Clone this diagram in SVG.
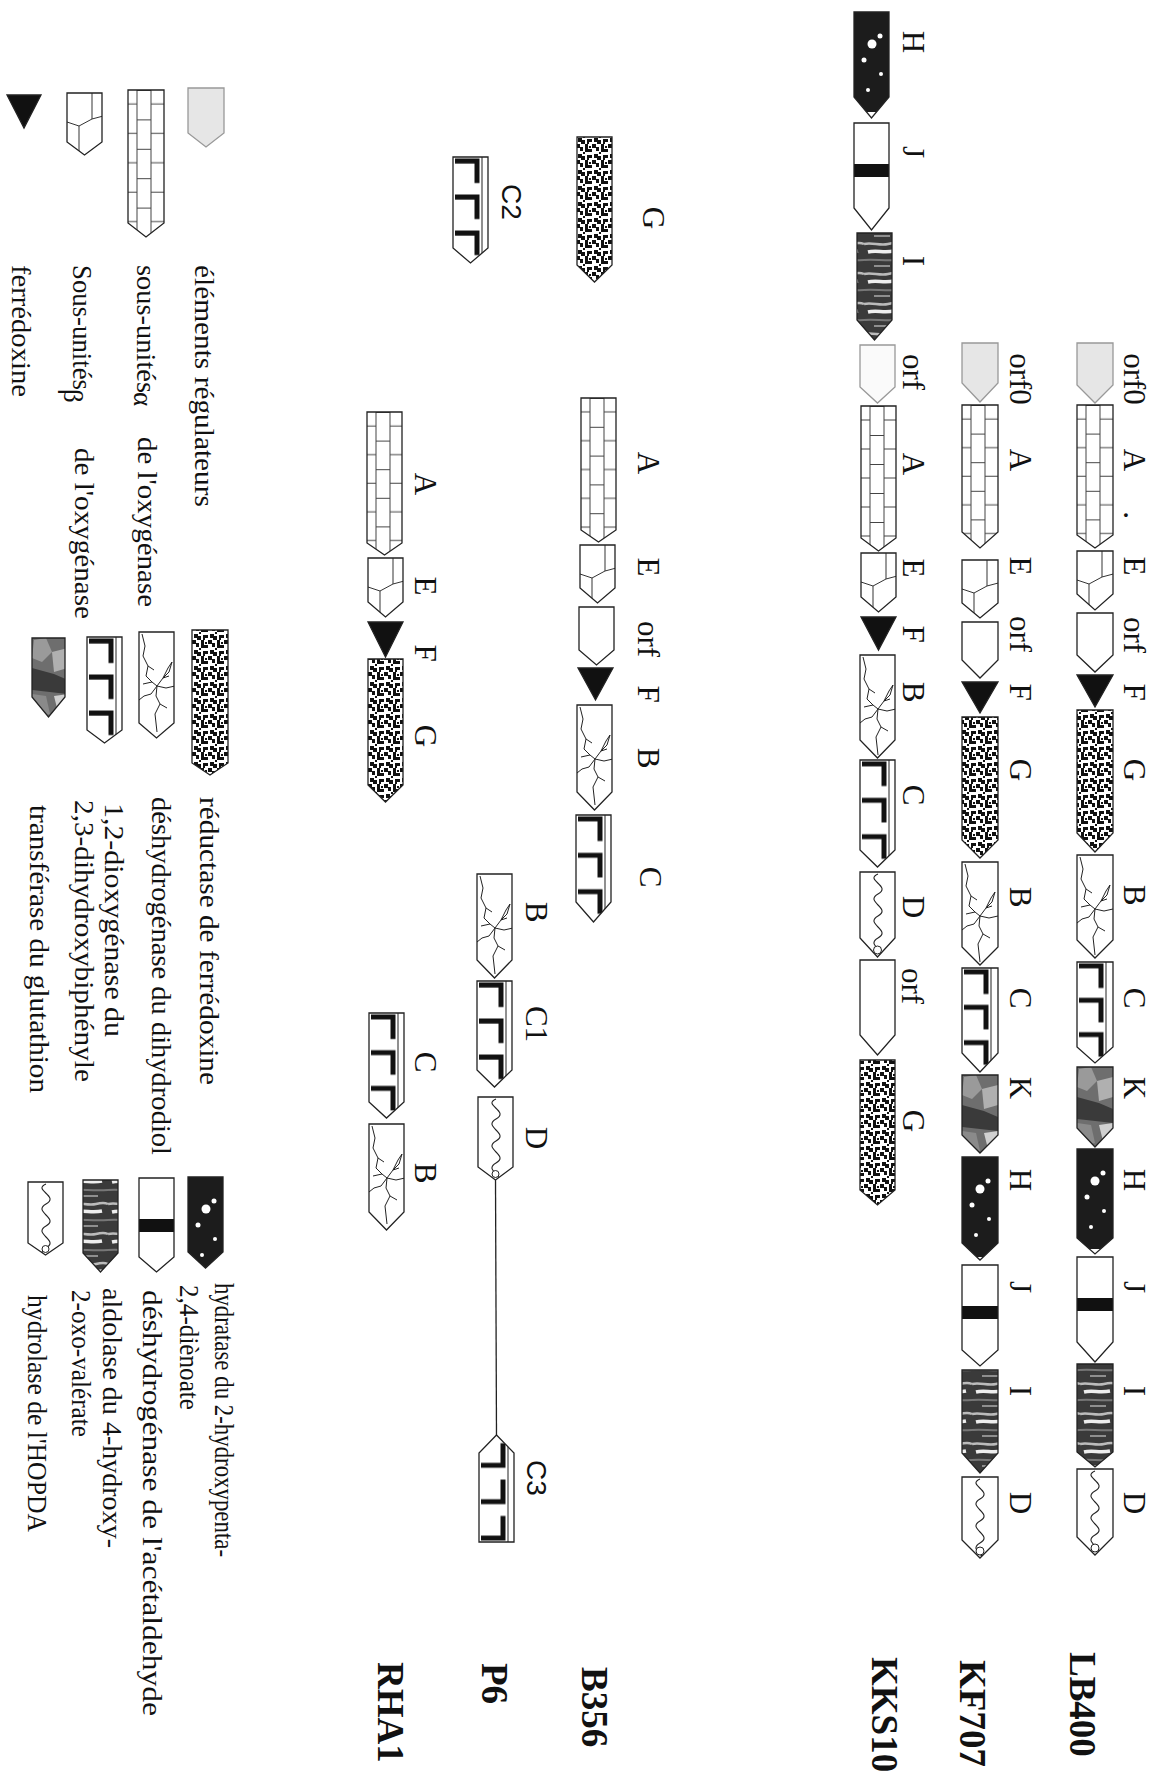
<svg xmlns="http://www.w3.org/2000/svg" width="1160" height="1780" viewBox="0 0 1160 1780">
<style>
.g{stroke:#222;stroke-width:1.3;stroke-linejoin:miter}
.reg{fill:#e6e6e6;stroke:#999}
.w{fill:#fff}
.fA{fill:url(#pA)}
.fE{fill:url(#pE)}
.fF{fill:#111}
.fG{fill:url(#pG)}
.fB{fill:url(#pB)}
.fC{fill:url(#pC)}
.fK{fill:url(#pK)}
.fH{fill:url(#pH)}
.fJ{fill:url(#pJ)}
.fI{fill:url(#pI)}
.fD{fill:url(#pD)}
.gl{font-family:"Liberation Serif",serif;font-size:31px;fill:#111;text-anchor:middle}
.gs{font-family:"Liberation Sans",sans-serif;font-size:28px;fill:#111;text-anchor:middle}
.st{font-family:"Liberation Serif",serif;font-weight:bold;font-size:37px;fill:#111}
.lg{font-family:"Liberation Serif",serif;font-size:27px;fill:#111}
.tipc{fill:#fff;stroke:#222;stroke-width:1}
.ln{stroke:#222;stroke-width:1.3;fill:none}
</style>
<defs>
<pattern id="pA" patternUnits="objectBoundingBox" width="1" height="0.2">
<rect width="40" height="60" fill="#fff"/>
<path d="M9 0V60M23 0V60M9 0.5H23M0 14H9M23 14H40" stroke="#444" stroke-width="1" fill="none"/>
</pattern>
<pattern id="pE" patternUnits="objectBoundingBox" width="1" height="1">
<rect width="40" height="80" fill="#fff"/>
<path d="M25 0V26L12 33V80M25 26L40 22M12 33L0 29" stroke="#333" stroke-width="1" fill="none"/>
</pattern>
<pattern id="pG" patternUnits="userSpaceOnUse" width="16" height="16">
<rect width="16" height="16" fill="#fff"/>
<path fill="#111" d="M0 0h4v3h3v4h-3v-3h-4z M9 0h3v5h4v3h-7z M2 10h4v2h3v4h-4v-2h-3z M11 11h5v3h-3v2h-2z M13 2h2v2h-2z M7 8h2v2h-2z"/>
</pattern>
<pattern id="pB" patternUnits="objectBoundingBox" width="1" height="1">
<rect width="40" height="120" fill="#fff"/>
<path d="M3 2L6 14L4 24L9 34L7 44L13 50L18 54M18 54L24 46L29 36L33 30L30 40L24 46M18 54L27 56L36 54M18 54L12 62L5 64L0 68M18 54L17 64L21 72L16 82L18 100M24 46L30 44M9 34L15 38M21 72L28 76M13 50L4 52" stroke="#222" stroke-width="1" fill="none"/>
</pattern>
<pattern id="pC" patternUnits="objectBoundingBox" width="1" height="0.34">
<rect width="40" height="40" fill="#fff"/>
<path d="M2 4H24V26" stroke="#111" stroke-width="5" fill="none"/>
<path d="M29 0V40" stroke="#222" stroke-width="1" fill="none"/>
</pattern>
<pattern id="pK" patternUnits="objectBoundingBox" width="1" height="1">
<rect width="40" height="100" fill="#6e6e6e"/>
<path d="M2 2L14 0L20 14L10 24L0 20Z" fill="#9a9a9a"/>
<path d="M20 14L36 10L36 30L22 34Z" fill="#b0b0b0"/>
<path d="M0 30L22 36L36 42L36 56L0 52Z" fill="#3a3a3a"/>
<path d="M22 58L36 56L36 72L26 74Z" fill="#d0d0d0"/>
<path d="M0 56L14 58L18 76L0 80Z" fill="#8a8a8a"/>
</pattern>
<pattern id="pH" patternUnits="objectBoundingBox" width="1" height="1">
<rect width="40" height="100" fill="#1c1c1c"/>
<circle cx="18" cy="32" r="4.5" fill="#fff"/>
<circle cx="26" cy="24" r="2.5" fill="#fff"/>
<circle cx="10" cy="48" r="2.5" fill="#fff"/>
<circle cx="27" cy="62" r="2" fill="#fff"/>
<circle cx="14" cy="78" r="2" fill="#fff"/>
</pattern>
<pattern id="pJ" patternUnits="objectBoundingBox" width="1" height="1">
<rect width="40" height="120" fill="#fff"/>
<rect y="41" width="40" height="13" fill="#111"/>
</pattern>
<pattern id="pI" patternUnits="userSpaceOnUse" width="36" height="30">
<rect width="36" height="30" fill="#3a3a3a"/>
<path d="M0 4C8 2 16 6 24 4S34 3 36 4" stroke="#bbb" stroke-width="2.5" fill="none"/>
<path d="M4 12C12 10 20 13 30 11" stroke="#eee" stroke-width="3.5" fill="none"/>
<path d="M0 20C10 19 20 21 36 20" stroke="#777" stroke-width="2" fill="none"/>
<path d="M10 26H26" stroke="#aaa" stroke-width="1.5"/>
</pattern>
<pattern id="pD" patternUnits="objectBoundingBox" width="1" height="1">
<rect width="40" height="100" fill="#fff"/>
<path d="M18 2C4 8 32 14 18 22S32 36 18 44S32 58 18 66S32 80 18 88" stroke="#222" stroke-width="1.1" fill="none"/>
</pattern>
</defs>

<g id="connectors">
<path class="ln" d="M495.5 1180L496.5 1435"/>
</g>

<!-- LB400 -->
<g id="lb400-orf0"><path class="g reg" d="M1077 343H1113V385L1095 403L1077 385Z"/><text class="gl" transform="translate(1124 379) rotate(90)">orf0</text></g>
<g id="lb400-A"><path class="g fA" d="M1077 405H1113V535L1095 548L1077 535Z"/><text class="gl" transform="translate(1124 460) rotate(90)">A</text><text class="gl" transform="translate(1124 515) rotate(90)">.</text></g>
<g id="lb400-E"><path class="g fE" d="M1077 551H1113V594L1095 610L1077 594Z"/><text class="gl" transform="translate(1124 566) rotate(90)">E</text></g>
<g id="lb400-orf"><path class="g w" d="M1077 613H1113V655L1095 672L1077 655Z"/><text class="gl" transform="translate(1124 635) rotate(90)">orf</text></g>
<g id="lb400-F"><path class="g fF" d="M1077 675H1113L1095 707Z"/><text class="gl" transform="translate(1124 692) rotate(90)">F</text></g>
<g id="lb400-G"><path class="g fG" d="M1077 710H1113V833L1095 852L1077 833Z"/><text class="gl" transform="translate(1124 770) rotate(90)">G</text></g>
<g id="lb400-B"><path class="g fB" d="M1077 855H1113V940L1095 958L1077 940Z"/><text class="gl" transform="translate(1124 895) rotate(90)">B</text></g>
<g id="lb400-C"><path class="g fC" d="M1077 962H1113V1047L1095 1063L1077 1047Z"/><text class="gl" transform="translate(1124 998) rotate(90)">C</text></g>
<g id="lb400-K"><path class="g fK" d="M1077 1067H1113V1128L1095 1147L1077 1128Z"/><text class="gl" transform="translate(1124 1088) rotate(90)">K</text></g>
<g id="lb400-H"><path class="g fH" d="M1077 1149H1113V1238L1095 1254L1077 1238Z"/><text class="gl" transform="translate(1124 1180) rotate(90)">H</text></g>
<g id="lb400-J"><path class="g fJ" d="M1077 1257H1113V1342L1095 1362L1077 1342Z"/><text class="gl" transform="translate(1124 1287) rotate(90)">J</text></g>
<g id="lb400-I"><path class="g fI" d="M1077 1364H1113V1452L1095 1467L1077 1452Z"/><text class="gl" transform="translate(1124 1391) rotate(90)">I</text></g>
<g id="lb400-D"><path class="g fD" d="M1077 1469H1113V1537L1095 1555L1077 1537Z"/><circle class="tipc" cx="1095" cy="1548" r="4"/><text class="gl" transform="translate(1124 1503) rotate(90)">D</text></g>
<text id="label-LB400" class="st" transform="translate(1070 1652) rotate(90)">LB400</text>

<!-- KF707 -->
<g id="kf707-orf0"><path class="g reg" d="M962 343H998V383L980 402L962 383Z"/><text class="gl" transform="translate(1010 379) rotate(90)">orf0</text></g>
<g id="kf707-A"><path class="g fA" d="M962 405H998V532L980 548L962 532Z"/><text class="gl" transform="translate(1010 460) rotate(90)">A</text></g>
<g id="kf707-E"><path class="g fE" d="M962 560H998V603L980 618L962 603Z"/><text class="gl" transform="translate(1010 566) rotate(90)">E</text></g>
<g id="kf707-orf"><path class="g w" d="M962 622H998V660L980 678L962 660Z"/><text class="gl" transform="translate(1010 634) rotate(90)">orf</text></g>
<g id="kf707-F"><path class="g fF" d="M962 682H998L980 713Z"/><text class="gl" transform="translate(1010 692) rotate(90)">F</text></g>
<g id="kf707-G"><path class="g fG" d="M962 717H998V840L980 858L962 840Z"/><text class="gl" transform="translate(1010 770) rotate(90)">G</text></g>
<g id="kf707-B"><path class="g fB" d="M962 862H998V947L980 965L962 947Z"/><text class="gl" transform="translate(1010 897) rotate(90)">B</text></g>
<g id="kf707-C"><path class="g fC" d="M962 968H998V1053L980 1072L962 1053Z"/><text class="gl" transform="translate(1010 998) rotate(90)">C</text></g>
<g id="kf707-K"><path class="g fK" d="M962 1075H998V1135L980 1153L962 1135Z"/><text class="gl" transform="translate(1010 1088) rotate(90)">K</text></g>
<g id="kf707-H"><path class="g fH" d="M962 1157H998V1243L980 1260L962 1243Z"/><text class="gl" transform="translate(1010 1180) rotate(90)">H</text></g>
<g id="kf707-J"><path class="g fJ" d="M962 1265H998V1350L980 1366L962 1350Z"/><text class="gl" transform="translate(1010 1287) rotate(90)">J</text></g>
<g id="kf707-I"><path class="g fI" d="M962 1370H998V1453L980 1473L962 1453Z"/><text class="gl" transform="translate(1010 1391) rotate(90)">I</text></g>
<g id="kf707-D"><path class="g fD" d="M962 1477H998V1540L980 1558L962 1540Z"/><circle class="tipc" cx="980" cy="1551" r="4"/><text class="gl" transform="translate(1010 1503) rotate(90)">D</text></g>
<text id="label-KF707" class="st" transform="translate(960 1660) rotate(90)">KF707</text>

<!-- KKS102 -->
<g id="kks-H"><path class="g fH" d="M854 12H889V97L871.5 118L854 97Z"/><text class="gl" transform="translate(903 42) rotate(90)">H</text></g>
<g id="kks-J"><path class="g fJ" d="M854 123H889V208L871.5 230L854 208Z"/><text class="gl" transform="translate(903 152) rotate(90)">J</text></g>
<g id="kks-I"><path class="g fI" d="M857 233H892V320L874.5 340L857 320Z"/><text class="gl" transform="translate(903 261) rotate(90)">I</text></g>
<g id="kks-orf"><path class="g reg" d="M860 345H895V387L877.5 403L860 387Z" style="fill:#fafafa"/><text class="gl" transform="translate(903 372) rotate(90)">orf</text></g>
<g id="kks-A"><path class="g fA" d="M861 406H896V538L878.5 551L861 538Z"/><text class="gl" transform="translate(903 464) rotate(90)">A</text></g>
<g id="kks-E"><path class="g fE" d="M861 553H896V597L878.5 612L861 597Z"/><text class="gl" transform="translate(903 568) rotate(90)">E</text></g>
<g id="kks-F"><path class="g fF" d="M861 617H896L878.5 650Z"/><text class="gl" transform="translate(903 634) rotate(90)">F</text></g>
<g id="kks-B"><path class="g fB" d="M860 655H895V740L877.5 758L860 740Z"/><text class="gl" transform="translate(903 692) rotate(90)">B</text></g>
<g id="kks-C"><path class="g fC" d="M860 760H895V850L877.5 867L860 850Z"/><text class="gl" transform="translate(903 795) rotate(90)">C</text></g>
<g id="kks-D"><path class="g fD" d="M860 872H895V938L877.5 957L860 938Z"/><circle class="tipc" cx="877.5" cy="950" r="4"/><text class="gl" transform="translate(903 907) rotate(90)">D</text></g>
<g id="kks-orf2"><path class="g w" d="M860 960H895V1035L877.5 1055L860 1035Z"/><text class="gl" transform="translate(902 986) rotate(90)">orf</text></g>
<g id="kks-G"><path class="g fG" d="M860 1060H895V1190L877.5 1205L860 1190Z"/><text class="gl" transform="translate(903 1121) rotate(90)">G</text></g>
<text id="label-KKS10" class="st" transform="translate(872 1657) rotate(90)">KKS10</text>

<!-- B356 -->
<g id="b356-G"><path class="g fG" d="M577 137H612V265L594.5 282L577 265Z"/><text class="gl" transform="translate(643 218) rotate(90)">G</text></g>
<g id="b356-A"><path class="g fA" d="M581 398H616V530L598.5 542L581 530Z"/><text class="gl" transform="translate(638 463) rotate(90)">A</text></g>
<g id="b356-E"><path class="g fE" d="M580 545H615V588L597.5 603L580 588Z"/><text class="gl" transform="translate(638 567) rotate(90)">E</text></g>
<g id="b356-orf"><path class="g w" d="M579 607H614V650L596.5 665L579 650Z"/><text class="gl" transform="translate(638 639) rotate(90)">orf</text></g>
<g id="b356-F"><path class="g fF" d="M578 668H613L595.5 700Z"/><text class="gl" transform="translate(638 694) rotate(90)">F</text></g>
<g id="b356-B"><path class="g fB" d="M577 705H612V792L594.5 810L577 792Z"/><text class="gl" transform="translate(638 758) rotate(90)">B</text></g>
<g id="b356-C"><path class="g fC" d="M576 815H611V902L593.5 922L576 902Z"/><text class="gl" transform="translate(640 877) rotate(90)">C</text></g>
<text id="label-B356" class="st" transform="translate(582 1667) rotate(90)">B356</text>

<!-- P6 -->
<g id="p6-C2"><path class="g fC" d="M453 157H488V248L470.5 263L453 248Z"/><text class="gs" transform="translate(502 202) rotate(90)">C2</text></g>
<g id="p6-B"><path class="g fB" d="M477 874H512V960L494.5 978L477 960Z"/><text class="gl" transform="translate(526 912) rotate(90)">B</text></g>
<g id="p6-C1"><path class="g fC" d="M477 981H512V1070L494.5 1087L477 1070Z"/><text class="gl" transform="translate(526 1024) rotate(90)">C1</text></g>
<g id="p6-D"><path class="g fD" d="M478 1097H513V1167L495.5 1180L478 1167Z"/><circle class="tipc" cx="495.5" cy="1174" r="3.5"/><text class="gl" transform="translate(526 1138) rotate(90)">D</text></g>
<g id="p6-C3"><path class="g fC" transform="matrix(1 0 0 -1 0 2977)" d="M479 1435H514V1524L496.5 1542L479 1524Z"/><text class="gs" transform="translate(527 1478) rotate(90)">C3</text></g>
<text id="label-P6" class="st" transform="translate(482 1663) rotate(90)">P6</text>

<!-- RHA1 -->
<g id="rha1-A"><path class="g fA" d="M367 412H402V543L384.5 555L367 543Z"/><text class="gl" transform="translate(415 484) rotate(90)">A</text></g>
<g id="rha1-E"><path class="g fE" d="M368 558H403V602L385.5 617L368 602Z"/><text class="gl" transform="translate(415 586) rotate(90)">E</text></g>
<g id="rha1-F"><path class="g fF" d="M368 622H403L385.5 657Z"/><text class="gl" transform="translate(415 653) rotate(90)">F</text></g>
<g id="rha1-G"><path class="g fG" d="M368 659H403V785L385.5 802L368 785Z"/><text class="gl" transform="translate(415 736) rotate(90)">G</text></g>
<g id="rha1-C"><path class="g fC" d="M369 1013H404V1102L386.5 1118L369 1102Z"/><text class="gl" transform="translate(415 1062) rotate(90)">C</text></g>
<g id="rha1-B"><path class="g fB" d="M369 1124H404V1212L386.5 1230L369 1212Z"/><text class="gl" transform="translate(415 1173) rotate(90)">B</text></g>
<text id="label-RHA1" class="st" transform="translate(378 1662) rotate(90)">RHA1</text>

<!-- Legend -->
<g id="leg-reg"><path class="g reg" d="M188 88H224V133L206 147L188 133Z"/><text class="lg" transform="translate(195 265) rotate(90)" textLength="242" lengthAdjust="spacingAndGlyphs">éléments régulateurs</text></g>
<g id="leg-alpha"><path class="g fA" d="M128 90H164V223L146 237L128 223Z"/><text class="lg" transform="translate(137 265) rotate(90)" textLength="128" lengthAdjust="spacingAndGlyphs">sous-unités</text><text class="lg" transform="translate(134 392) rotate(90)">α</text><text class="lg" transform="translate(138 437) rotate(90)" textLength="170" lengthAdjust="spacingAndGlyphs">de l'oxygénase</text></g>
<g id="leg-beta"><path class="g fE" d="M67 93H102V142L84.5 155L67 142Z"/><text class="lg" transform="translate(73 265) rotate(90)" textLength="125" lengthAdjust="spacingAndGlyphs">Sous-unités</text><text class="lg" transform="translate(64 389) rotate(90)">β</text><text class="lg" transform="translate(75 448) rotate(90)" textLength="171" lengthAdjust="spacingAndGlyphs">de l'oxygénase</text></g>
<g id="leg-fd"><path class="g fF" d="M7 95H41L24 128Z"/><text class="lg" transform="translate(12 265) rotate(90)" textLength="132" lengthAdjust="spacingAndGlyphs">ferrédoxine</text></g>
<g id="leg-G"><path class="g fG" d="M192 630H228V763L210 775L192 763Z"/><text class="lg" transform="translate(200 797) rotate(90)" textLength="288" lengthAdjust="spacingAndGlyphs">réductase de ferrédoxine</text></g>
<g id="leg-B"><path class="g fB" d="M139 632H174V723L156.5 738L139 723Z"/><text class="lg" transform="translate(152 797) rotate(90)" textLength="358" lengthAdjust="spacingAndGlyphs">déshydrogénase du dihydrodiol</text></g>
<g id="leg-C"><path class="g fC" d="M87 637H122V730L104.5 743L87 730Z"/><text class="lg" transform="translate(105 803) rotate(90)" textLength="234" lengthAdjust="spacingAndGlyphs">1,2-dioxygénase du</text><text class="lg" transform="translate(75 800) rotate(90)" textLength="282" lengthAdjust="spacingAndGlyphs">2,3-dihydroxybiphényle</text></g>
<g id="leg-K"><path class="g fK" d="M32 638H65V697L48.5 717L32 697Z"/><text class="lg" transform="translate(30 805) rotate(90)" textLength="288" lengthAdjust="spacingAndGlyphs">transférase du glutathion</text></g>
<g id="leg-H"><path class="g fH" d="M188 1177H223V1252L205.5 1268L188 1252Z"/><text class="lg" transform="translate(215 1283) rotate(90)" textLength="274" lengthAdjust="spacingAndGlyphs">hydratase du 2-hydroxypenta-</text><text class="lg" transform="translate(180 1285) rotate(90)" textLength="125" lengthAdjust="spacingAndGlyphs">2,4-diènoate</text></g>
<g id="leg-J"><path class="g fJ" d="M139 1178H174V1257L156.5 1272L139 1257Z"/><text class="lg" transform="translate(143 1290) rotate(90)" textLength="426" lengthAdjust="spacingAndGlyphs">déshydrogénase de l'acétaldehyde</text></g>
<g id="leg-I"><path class="g fI" d="M83 1180H118V1253L100.5 1272L83 1253Z"/><text class="lg" transform="translate(103 1288) rotate(90)" textLength="260" lengthAdjust="spacingAndGlyphs">aldolase du 4-hydroxy-</text><text class="lg" transform="translate(72 1290) rotate(90)" textLength="147" lengthAdjust="spacingAndGlyphs">2-oxo-valérate</text></g>
<g id="leg-D"><path class="g fD" d="M28 1182H63V1243L45.5 1255L28 1243Z"/><circle class="tipc" cx="45.5" cy="1249" r="3.5"/><text class="lg" transform="translate(28 1295) rotate(90)" textLength="237" lengthAdjust="spacingAndGlyphs">hydrolase de l'HOPDA</text></g>
</svg>
